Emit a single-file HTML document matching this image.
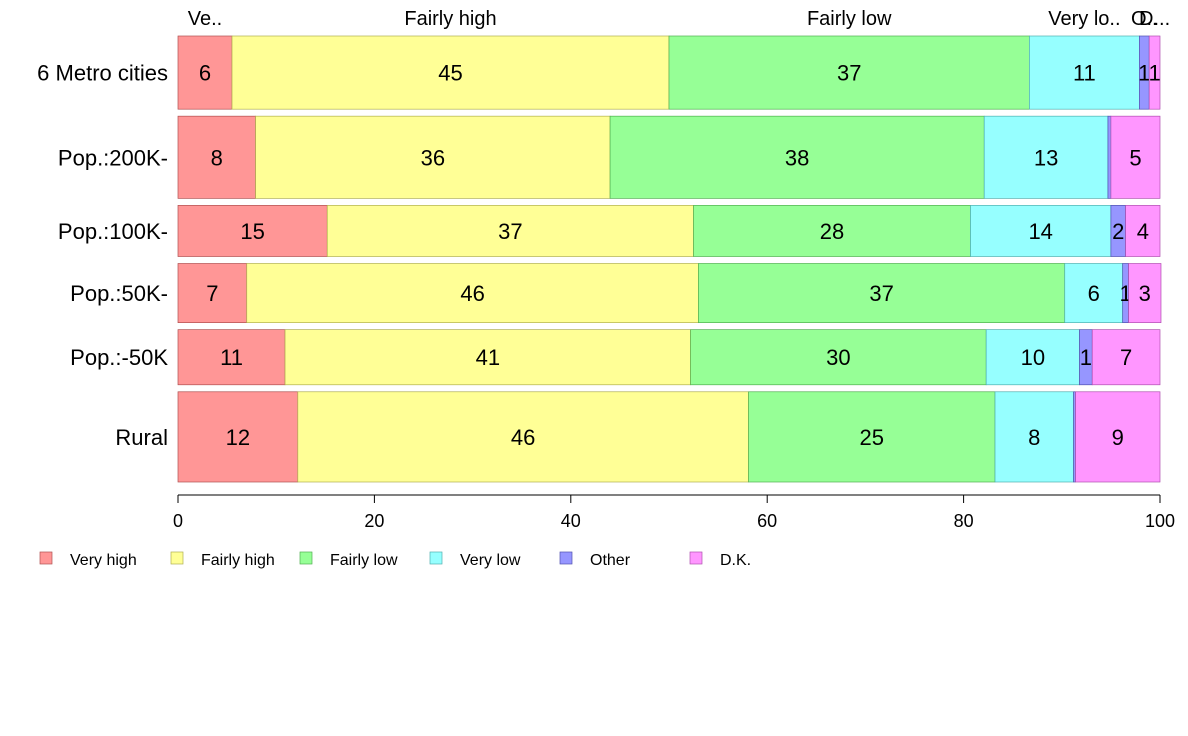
<!DOCTYPE html>
<html><head><meta charset="utf-8">
<style>
html,body{margin:0;padding:0;background:#fff;}
svg{display:block;font-family:"Liberation Sans",Arial,sans-serif;}
</style></head>
<body>
<svg id="chart" width="1188" height="736" viewBox="0 0 1188 736" xmlns="http://www.w3.org/2000/svg"></svg>
<script>
const rows = ["6 Metro cities","Pop.:200K-","Pop.:100K-","Pop.:50K-","Pop.:-50K","Rural"];
const sizes = [73,82,51,59,55,90];
const series = ["Very high","Fairly high","Fairly low","Very low","Other","D.K."];
const topLabels = ["Ve..","Fairly high","Fairly low","Very lo..","O..","D..."];
const veryHigh = [5.5,7.9,15.2,7.0,10.9,12.2];
const fairlyHigh = [44.5,36.1,37.3,46.0,41.3,45.9];
const fairlyLow = [36.7,38.1,28.2,37.3,30.1,25.1];
const veryLow = [11.2,12.6,14.3,5.9,9.5,8.0];
const other = [1.0,0.3,1.5,0.6,1.3,0.2];
const dk = [1.1,5.0,3.5,3.3,6.9,8.6];
const ticks = [0,20,40,60,80,100];
const values = [veryHigh,fairlyHigh,fairlyLow,veryLow,other,dk];
const colors = ["#FF9696","#FFFF96","#96FF96","#96FFFF","#9696FF","#FF96FF"];
const strokes = ["#b05050","#b0b050","#50b050","#50b0b0","#5050b0","#b050b0"];

const svg = document.getElementById('chart');
const NS = "http://www.w3.org/2000/svg";
const x0 = 178, x1 = 1160, yTop = 36, yBot = 482, gap = 7;
const xs = v => x0 + (x1 - x0) * v / 100;
const totalSize = sizes.reduce((a,b)=>a+b,0);
const unit = (yBot - yTop - gap*(rows.length-1)) / totalSize;
function mk(tag, attrs, parent){
  const e = document.createElementNS(NS, tag);
  for (const k in attrs) e.setAttribute(k, attrs[k]);
  (parent||svg).appendChild(e);
  return e;
}
let y = yTop;
const rowY = [];
rows.forEach((r,i)=>{
  const h = sizes[i]*unit;
  rowY.push([y,h]);
  const g = mk('g',{});
  
  
  let acc = 0;
  values.forEach((s,j)=>{
    const v = s[i];
    const rx = xs(acc), rw = xs(acc+v) - xs(acc);
    const rect = mk('rect',{x:rx,y:y,width:rw,height:h,fill:colors[j],stroke:strokes[j],'stroke-width':0.7},g);
    
    
    const rv = Math.round(v);
    if (rv >= 1) {
      const t = mk('text',{x:rx+rw/2,y:y+h/2+8,'text-anchor':'middle','font-size':22,fill:'#000'},g);
      t.textContent = rv;
      
      
    }
    acc += v;
  });
  const lab = mk('text',{x:168,y:y+h/2+8,'text-anchor':'end','font-size':22,fill:'#000'});
  lab.textContent = r;
  
  
  y += h + gap;
});
// top labels centered over first row segments
let acc0 = 0;
values.forEach((s,j)=>{
  const v = s[0];
  const cx = (xs(acc0)+xs(acc0+v))/2;
  const t = mk('text',{x:cx,y:25,'text-anchor':'middle','font-size':20,fill:'#000'});
  t.textContent = topLabels[j];
  
  
  acc0 += v;
});
// x axis
const ax = mk('g',{});


mk('line',{x1:x0,y1:495,x2:x1,y2:495,stroke:'#000','stroke-width':1},ax);
ticks.forEach(tv=>{
  mk('line',{x1:xs(tv),y1:495,x2:xs(tv),y2:503,stroke:'#000','stroke-width':1},ax);
  const t = mk('text',{x:xs(tv),y:527,'text-anchor':'middle','font-size':18,fill:'#000'},ax);
  t.textContent = tv;
  
  
});
// legend
const lg = mk('g',{});


const lx = [40,171,300,430,560,690];
series.forEach((s,j)=>{
  const e = mk('g',{},lg);
  
  
  mk('rect',{x:lx[j],y:552,width:12,height:12,fill:colors[j],stroke:strokes[j],'stroke-width':0.7},e);
  const t = mk('text',{x:lx[j]+30,y:565,'font-size':16,fill:'#000'},e);
  t.textContent = s;
});
</script>
</body></html>
